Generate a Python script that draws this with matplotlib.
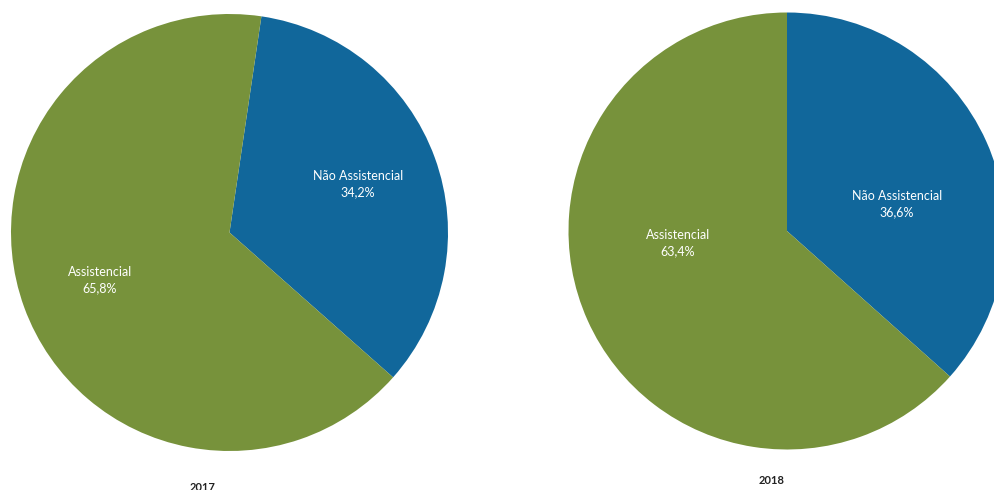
import matplotlib.pyplot as plt

# share of spending by type, per year
categories = ['Não Assistencial', 'Assistencial']
values_2017 = [34.2, 65.8]
values_2018 = [36.6, 63.4]
years = ['2017', '2018']

colors = ['#11679b', '#77923b']

plt.rcParams['font.family'] = ['Lato', 'DejaVu Sans']

fig = plt.figure(figsize=(9.94, 4.9), dpi=100)
ax = fig.add_axes([0, 0, 1, 1])

pies = [
    dict(vals=values_2017, center=(229.5, 257.5), start=81.6,
         lab_pos=[(358, 306), (100, 210)], year_pos=(203, 3)),
    dict(vals=values_2018, center=(787, 259), start=90,
         lab_pos=[(897, 286), (678, 247)], year_pos=(772, 10)),
]

for p, year in zip(pies, years):
    ax.pie(p['vals'], colors=colors, startangle=p['start'], counterclock=False,
           center=p['center'], radius=218.5, frame=True,
           wedgeprops=dict(linewidth=0))
    for cat, v, (x, y) in zip(categories, p['vals'], p['lab_pos']):
        ax.text(x, y, f'{cat}\n{v:.1f}%'.replace('.', ','), color='white',
                fontsize=9, ha='center', va='center', linespacing=1.4)
    ax.text(p['year_pos'][0], p['year_pos'][1], year, fontsize=8,
            fontweight='bold', ha='center', va='center', color='#222222')

ax.set_xlim(0, 994)
ax.set_ylim(0, 490)
ax.set_aspect('equal')
ax.axis('off')

fig.savefig('out.png', dpi=100)
